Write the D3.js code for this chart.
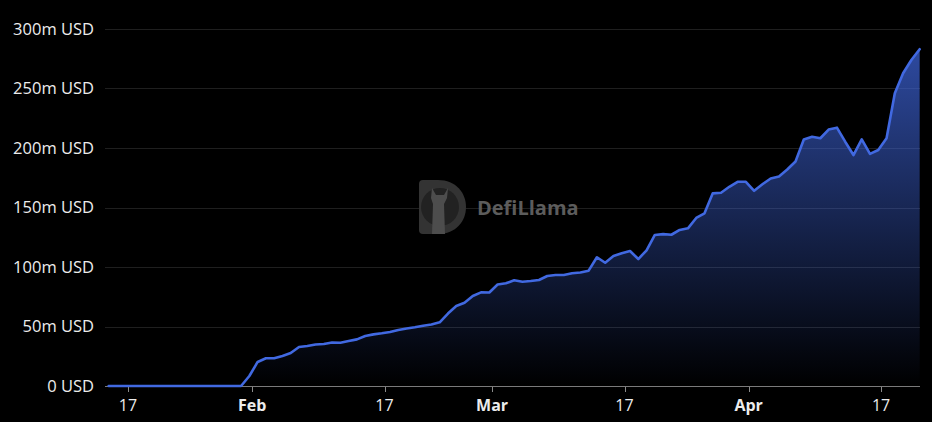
<!DOCTYPE html>
<html><head><meta charset="utf-8">
<script src="https://cdn.jsdelivr.net/npm/d3@7"></script>
<style>html,body{margin:0;padding:0;background:#000;overflow:hidden}svg{display:block}</style>
</head><body><svg id="c" width="932" height="422"></svg>
<script>
// ---- data ----
const startDay = "2024-01-15"; // one point per day (00:00 UTC)
const tvlMillions = [
  0,0,0,0,0,0,0,0,0,0,0,0,0,0,0,0,0,
  8.4,20.2,23.3,23.3,25.2,27.7,32.8,33.6,34.9,35.3,36.6,36.4,37.8,39.2,42.0,43.4,44.3,
  45.4,47.1,48.3,49.3,50.6,51.7,53.5,60.9,67.2,69.9,75.6,78.7,
  78.6,85.3,86.3,88.8,87.6,88.2,89.1,92.4,93.3,93.3,94.7,95.4,96.9,108.2,103.6,109.2,
  111.5,113.4,106.7,114.0,126.9,127.6,127.1,131.1,132.5,141.2,145.1,161.9,162.4,167.4,171.6,
  171.6,164.0,169.5,174.4,176.1,181.9,188.7,207.1,209.4,208.2,215.5,217.1,205.3,194.1,207.3,195.0,
  198.3,208.2,246.0,262.8,274.0,283.0
];
const xTickDays = ["2024-01-17","2024-02-01","2024-02-17","2024-03-01","2024-03-17","2024-04-01","2024-04-17"];
const xTickLabels = ["17","Feb","17","Mar","17","Apr","17"];
const xTickBold = [false,true,false,true,false,true,false];
const yTicks = [0,50,100,150,200,250,300];
const yTickLabels = ["0 USD","50m USD","100m USD","150m USD","200m USD","250m USD","300m USD"];

// ---- setup ----
const svg = d3.select("#c");
const parseDay = d3.utcParse("%Y-%m-%d");
const tickHourShift = 8; // axis ticks fall on local midnight (UTC-8)
const data = tvlMillions.map((v, i) => ({ date: d3.utcDay.offset(parseDay(startDay), i), value: v }));
const FONT = "'Open Sans', 'Noto Sans', sans-serif";

const x = d3.scaleUtc()
  .domain([new Date(Date.UTC(2024,0,14,13,20)), new Date(Date.UTC(2024,3,22,1,0))])
  .range([105, 920]);
const y = d3.scaleLinear().domain([0, 300]).range([386, 29]);

svg.append("rect").attr("width", 932).attr("height", 422).attr("fill", "#000");

// grid
svg.append("g").selectAll("line").data(yTicks.filter(t => t > 0)).join("line")
  .attr("x1", 105).attr("x2", 920)
  .attr("y1", d => Math.round(y(d)) + 0.5).attr("y2", d => Math.round(y(d)) + 0.5)
  .attr("stroke", "#1f1f1f").attr("stroke-width", 1);

// y labels
svg.append("g").selectAll("text").data(yTicks).join("text")
  .attr("x", 94).attr("y", d => y(d)).attr("dy", "0.35em")
  .attr("text-anchor", "end")
  .attr("fill", "#ececec")
  .style("font-family", FONT).style("font-size", "16.5px")
  .text((d, i) => yTickLabels[i]);

// watermark
const wm = svg.append("g");
wm.append("path")
  .attr("d", "M419,184 Q419,180 423,180 L438,180 C456,180 466,193 466,207 C466,221 456,234 438,234 L423,234 Q419,234 419,230 Z")
  .attr("fill", "#333");
wm.append("circle").attr("cx", 440).attr("cy", 207).attr("r", 19).attr("fill", "#222");
wm.append("path")
  .attr("d", "M432,188 L436,195 L444,195 L448,188 L447,198 L444,204 L445,234 L432,234 L433,204 L431,198 Z")
  .attr("fill", "#4d4d4d");
wm.append("text").attr("x", 477).attr("y", 215)
  .attr("fill", "#5c5c5c")
  .style("font-family", FONT)
  .style("font-size", "20px").style("font-weight", "700")
  .text("DefiLlama");

// area + line
const defs = svg.append("defs");
const grad = defs.append("linearGradient").attr("id", "g1")
  .attr("x1", 0).attr("y1", 0).attr("x2", 0).attr("y2", 1);
grad.append("stop").attr("offset", "0%").attr("stop-color", "#3f66dd").attr("stop-opacity", 0.72);
grad.append("stop").attr("offset", "100%").attr("stop-color", "#3f66dd").attr("stop-opacity", 0.0);

const area = d3.area().x(d => x(d.date)).y0(y(0)).y1(d => y(d.value));
const line = d3.line().x(d => x(d.date)).y(d => y(d.value));

// x axis line
svg.append("line").attr("x1", 105).attr("x2", 920).attr("y1", 386.5).attr("y2", 386.5)
  .attr("stroke", "#7a7a7a").attr("stroke-width", 1);

svg.append("path").datum(data).attr("d", area).attr("fill", "url(#g1)");
svg.append("path").datum(data).attr("d", line).attr("fill", "none")
  .attr("stroke", "#4169e1").attr("stroke-width", 2.6).attr("stroke-linejoin", "round").attr("stroke-linecap", "round");

// x ticks
const tickDates = xTickDays.map(s => d3.utcHour.offset(parseDay(s), tickHourShift));
const xg = svg.append("g");
xg.selectAll("line").data(tickDates).join("line")
  .attr("x1", d => Math.round(x(d)) + 0.5).attr("x2", d => Math.round(x(d)) + 0.5)
  .attr("y1", 387).attr("y2", 392).attr("stroke", "#8a8a8a");
xg.selectAll("text").data(tickDates).join("text")
  .attr("x", d => x(d)).attr("y", 411)
  .attr("text-anchor", "middle").attr("fill", "#ececec")
  .style("font-family", FONT).style("font-size", "16px")
  .style("font-weight", (d, i) => xTickBold[i] ? "700" : "400")
  .text((d, i) => xTickLabels[i]);
</script></body></html>
